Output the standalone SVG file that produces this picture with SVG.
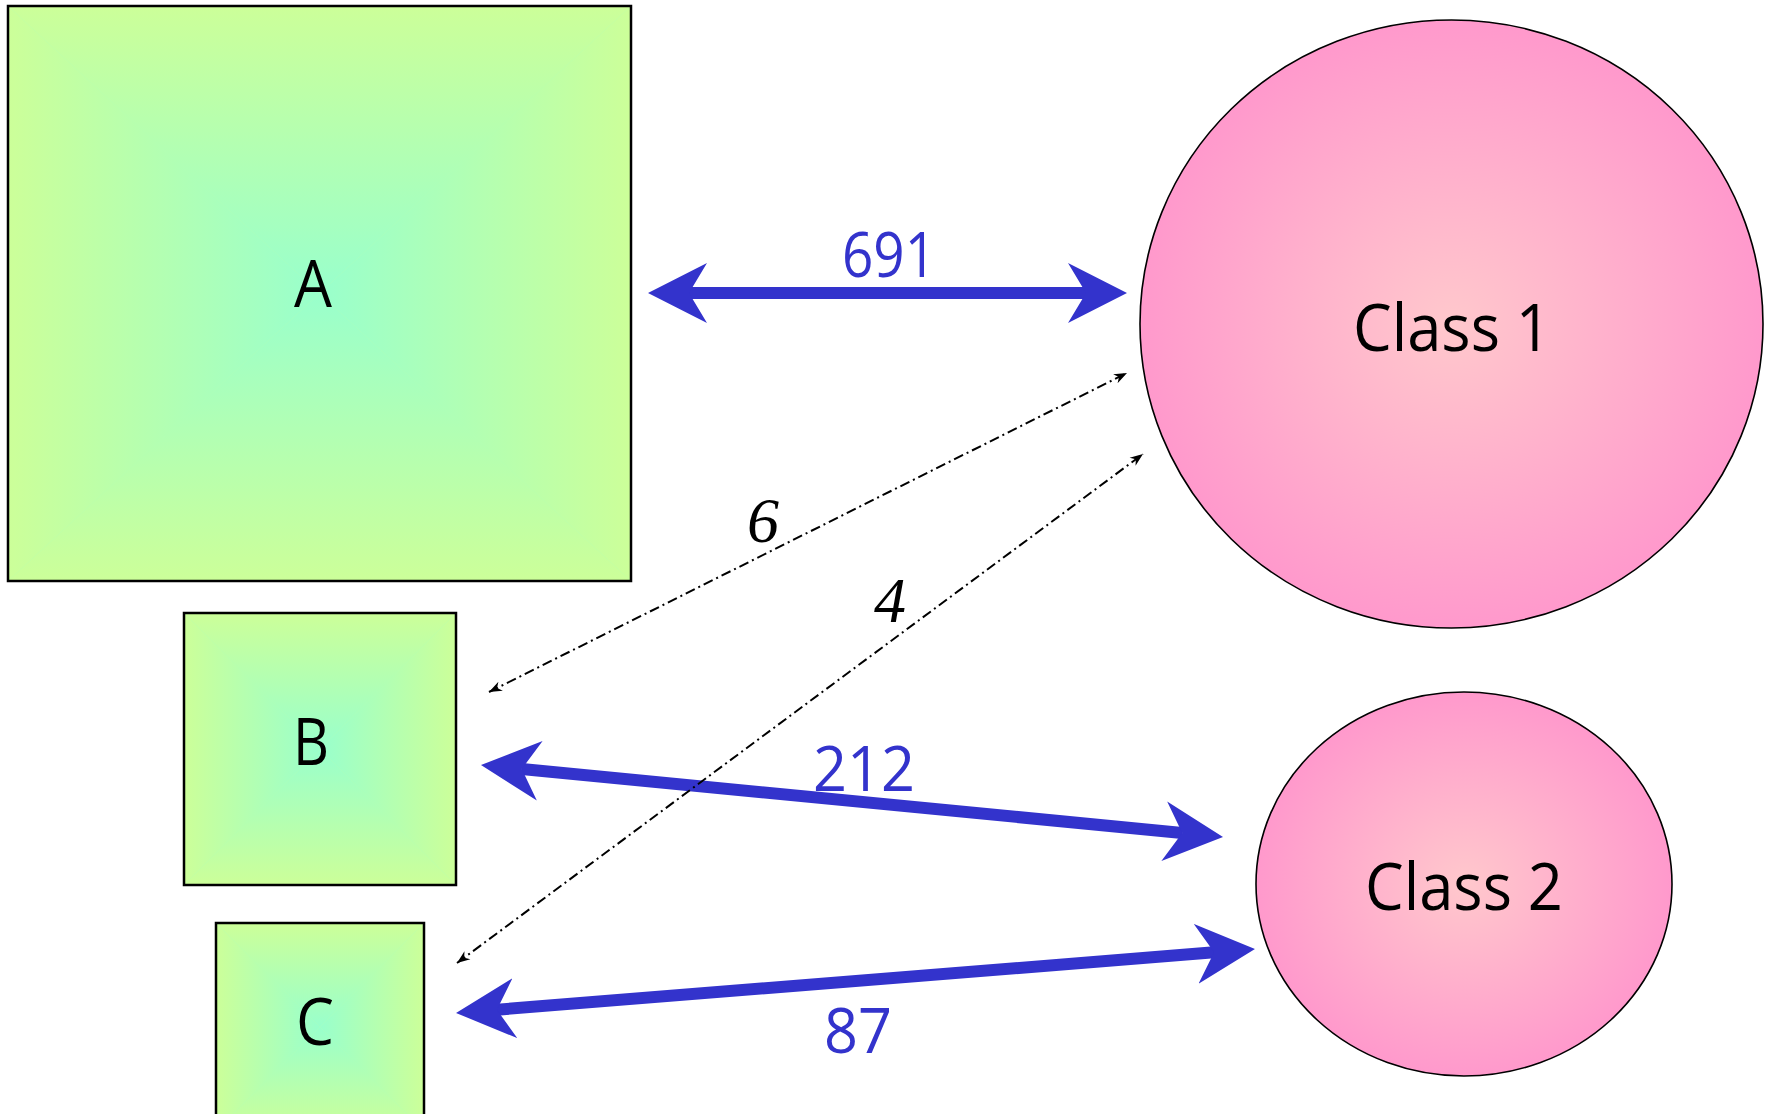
<svg xmlns="http://www.w3.org/2000/svg" width="1771" height="1114" viewBox="0 0 1771 1114">
<defs>
<style>
.box{fill:none;stroke:#000;stroke-width:2.5}
.ell{fill:url(#pink);stroke:#000;stroke-width:1.6}
.lbl{font-family:"Open Sans","DejaVu Sans",sans-serif;font-size:66px;fill:#000;text-anchor:middle}
.num{font-family:"Open Sans","DejaVu Sans",sans-serif;font-size:63px;fill:#3333CC;text-anchor:middle}
.ital{font-family:"Liberation Serif",serif;font-style:italic;font-size:64px;fill:#000;text-anchor:middle}
.thick{stroke:#3333CC;stroke-width:12;fill:none;marker-start:url(#bh);marker-end:url(#bh)}
.dot{stroke:#000;stroke-width:2;fill:none;stroke-dasharray:10 4 2 4;marker-start:url(#sh);marker-end:url(#sh)}
.base{fill:#B3FFB3}
</style>
<linearGradient id="gT" x1="0" y1="0" x2="0" y2="1"><stop offset="0" stop-color="#CCFF99"/><stop offset="1" stop-color="#99FFCC"/></linearGradient>
<linearGradient id="gB" x1="0" y1="1" x2="0" y2="0"><stop offset="0" stop-color="#CCFF99"/><stop offset="1" stop-color="#99FFCC"/></linearGradient>
<linearGradient id="gL" x1="0" y1="0" x2="1" y2="0"><stop offset="0" stop-color="#CCFF99"/><stop offset="1" stop-color="#99FFCC"/></linearGradient>
<linearGradient id="gR" x1="1" y1="0" x2="0" y2="0"><stop offset="0" stop-color="#CCFF99"/><stop offset="1" stop-color="#99FFCC"/></linearGradient>
<radialGradient id="pink" cx="0.5" cy="0.5" r="0.5"><stop offset="0" stop-color="#FFC8CC"/><stop offset="1" stop-color="#FF99CC"/></radialGradient>
<marker id="bh" markerUnits="userSpaceOnUse" viewBox="0 -31 60 62" markerWidth="60" markerHeight="62" refX="18" refY="0" orient="auto-start-reverse">
<path d="M0,-30 L59,0 L0,30 L18,0 z" fill="#3333CC"/>
</marker>
<marker id="sh" markerUnits="userSpaceOnUse" viewBox="0 -6 14 12" markerWidth="14" markerHeight="12" refX="13" refY="0" orient="auto-start-reverse">
<path d="M0,-5 L13,0 L0,5 L4,0 z" fill="#000"/>
</marker>
</defs>
<rect width="1771" height="1114" fill="#fff"/>

<g id="node-A">
<rect class="base" x="8" y="6" width="623" height="575"/>
<polygon points="8,6 631,6 319.5,293.5" fill="url(#gT)"/>
<polygon points="8,581 631,581 319.5,293.5" fill="url(#gB)"/>
<polygon points="8,6 8,581 319.5,293.5" fill="url(#gL)"/>
<polygon points="631,6 631,581 319.5,293.5" fill="url(#gR)"/>
<rect class="box" x="8" y="6" width="623" height="575"/>
<text class="lbl" x="313" y="307" textLength="38" lengthAdjust="spacingAndGlyphs">A</text>
</g>

<g id="node-B">
<rect class="base" x="184" y="613" width="272" height="272"/>
<polygon points="184,613 456,613 320,749" fill="url(#gT)"/>
<polygon points="184,885 456,885 320,749" fill="url(#gB)"/>
<polygon points="184,613 184,885 320,749" fill="url(#gL)"/>
<polygon points="456,613 456,885 320,749" fill="url(#gR)"/>
<rect class="box" x="184" y="613" width="272" height="272"/>
<text class="lbl" x="311" y="765" textLength="36" lengthAdjust="spacingAndGlyphs">B</text>
</g>

<g id="node-C">
<rect class="base" x="216" y="923" width="208" height="208"/>
<polygon points="216,923 424,923 320,1027" fill="url(#gT)"/>
<polygon points="216,1131 424,1131 320,1027" fill="url(#gB)"/>
<polygon points="216,923 216,1131 320,1027" fill="url(#gL)"/>
<polygon points="424,923 424,1131 320,1027" fill="url(#gR)"/>
<rect class="box" x="216" y="923" width="208" height="208"/>
<text class="lbl" x="315" y="1045" textLength="38" lengthAdjust="spacingAndGlyphs">C</text>
</g>

<g id="node-class1">
<ellipse class="ell" cx="1451.5" cy="324" rx="311.5" ry="304"/>
<text class="lbl" x="1452" y="351" textLength="198" lengthAdjust="spacingAndGlyphs">Class 1</text>
</g>

<g id="node-class2">
<ellipse class="ell" cx="1464" cy="884" rx="208" ry="192"/>
<text class="lbl" x="1464" y="910" textLength="198" lengthAdjust="spacingAndGlyphs">Class 2</text>
</g>

<g id="connectors">
<line class="thick" x1="689" y1="293" x2="1086" y2="293"/>
<line class="thick" x1="521.8" y1="769" x2="1182.2" y2="833"/>
<line class="thick" x1="496.9" y1="1009.7" x2="1214.1" y2="952.3"/>
<line class="dot" x1="489" y1="692" x2="1127" y2="373"/>
<line class="dot" x1="457" y1="963" x2="1143" y2="454"/>
<text class="num" x="889" y="277" textLength="94" lengthAdjust="spacingAndGlyphs">691</text>
<text class="num" x="864" y="791" textLength="102" lengthAdjust="spacingAndGlyphs">212</text>
<text class="num" x="858" y="1053" textLength="68" lengthAdjust="spacingAndGlyphs">87</text>
<text class="ital" x="763" y="542">6</text>
<text class="ital" x="890" y="622">4</text>
</g>
</svg>
